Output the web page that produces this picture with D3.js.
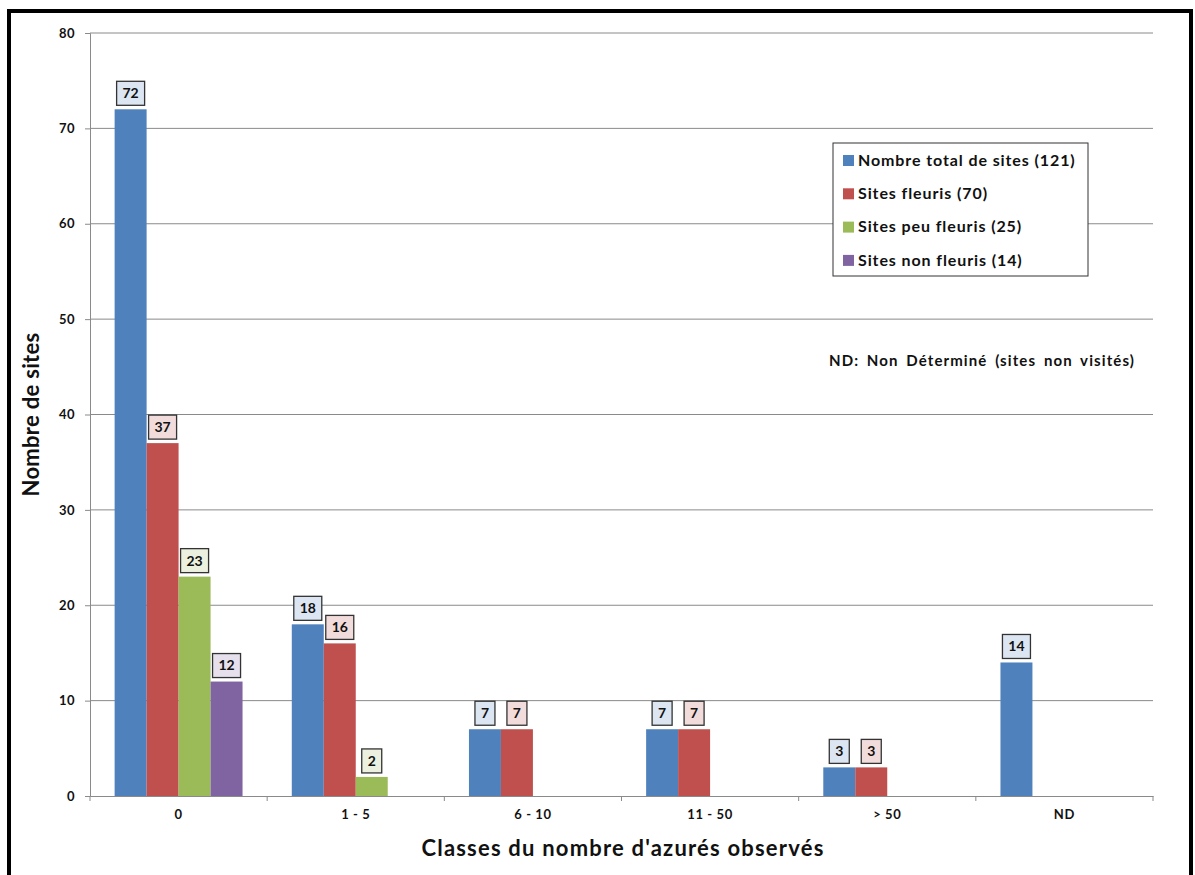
<!DOCTYPE html>
<html>
<head>
<meta charset="utf-8">
<script src="https://cdn.jsdelivr.net/npm/d3@7"></script>
<style>
  body { margin: 0; background: #fff; }
  text { font-family: Lato, "Open Sans", sans-serif; font-weight: bold; fill: #111; }
</style>
</head>
<body>
<div id="chart"></div>
<script>
// categories (x axis) and one array per series, null where there is no bar
let categories = ["0", "1 - 5", "6 - 10", "11 - 50", "> 50", "ND"];
let seriesNames = ["Nombre total de sites (121)", "Sites fleuris  (70)", "Sites peu fleuris  (25)", "Sites non fleuris  (14)"];
let totalSites = [72, 18, 7, 7, 3, 14];
let fleuris = [37, 16, 7, 7, 3, null];
let peuFleuris = [23, 2, null, null, null, null];
let nonFleuris = [12, null, null, null, null, null];
let yTicks = [0, 10, 20, 30, 40, 50, 60, 70, 80];

let seriesValues = [totalSites, fleuris, peuFleuris, nonFleuris];
let colors = ["#4f81bd", "#c0504d", "#9bbb59", "#8064a2"];
let labelFills = ["#dce6f2", "#f2dcdb", "#ebf1de", "#e5e0ec"];

let width = 1195, height = 875;
let margin = {left: 90, right: 42, top: 33, bottom: 79};

let svg = d3.select("#chart").append("svg")
  .attr("width", width).attr("height", height);

// outer black frame
svg.append("rect")
  .attr("x", 9).attr("y", 11)
  .attr("width", 1182).attr("height", 900)
  .attr("fill", "none").attr("stroke", "#000").attr("stroke-width", 4);

let x0 = d3.scaleBand()
  .domain(categories)
  .range([margin.left, width - margin.right]);

let x1 = d3.scaleBand()
  .domain(d3.range(4))
  .range([0, x0.bandwidth()])
  .paddingOuter(0.77);

let y = d3.scaleLinear()
  .domain([0, 80])
  .range([height - margin.bottom, margin.top]);

// gridlines
svg.append("g")
  .selectAll("line")
  .data(yTicks.slice(1))
  .enter().append("line")
  .attr("x1", margin.left).attr("x2", width - margin.right)
  .attr("y1", d => y(d)).attr("y2", d => y(d))
  .attr("stroke", "#8a8a8a").attr("stroke-width", 1);

// y axis
let yAxis = svg.append("g")
  .attr("transform", "translate(" + margin.left + ",0)")
  .call(d3.axisLeft(y).tickValues(yTicks).tickSize(5).tickPadding(10));
yAxis.selectAll("line, path").attr("stroke", "#8a8a8a");
yAxis.selectAll("text").style("font-size", "13px").style("font-family", "Lato, sans-serif")
  .style("letter-spacing", "0.5px").attr("fill", "#111");

// x axis (labels only, then boundary ticks)
let xAxis = svg.append("g")
  .attr("transform", "translate(0," + y(0) + ")")
  .call(d3.axisBottom(x0).tickSize(0).tickPadding(14));
xAxis.select("path").attr("stroke", "#8a8a8a");
xAxis.selectAll("text").style("font-size", "13px").style("font-family", "Lato, sans-serif")
  .style("letter-spacing", "0.6px").attr("fill", "#111");

let bounds = categories.map(c => x0(c)).concat([x0.range()[1]]);
svg.append("g")
  .selectAll("line")
  .data(bounds)
  .enter().append("line")
  .attr("x1", d => d).attr("x2", d => d)
  .attr("y1", y(0)).attr("y2", y(0) + 5)
  .attr("stroke", "#8a8a8a");

// bars
let barData = [];
seriesValues.forEach(function(vals, s) {
  vals.forEach(function(v, i) {
    if (v !== null) barData.push({s: s, cat: categories[i], v: v});
  });
});

svg.append("g")
  .selectAll("rect")
  .data(barData)
  .enter().append("rect")
  .attr("x", d => x0(d.cat) + x1(d.s))
  .attr("y", d => y(d.v))
  .attr("width", x1.bandwidth())
  .attr("height", d => y(0) - y(d.v))
  .attr("fill", d => colors[d.s]);

// value labels in boxes
let labels = svg.append("g")
  .selectAll("g")
  .data(barData)
  .enter().append("g")
  .attr("transform", d => "translate(" + (x0(d.cat) + x1(d.s) + x1.bandwidth() / 2) + "," + (y(d.v) - 16) + ")");

labels.append("rect")
  .attr("x", d => d.v >= 10 ? -14 : -10)
  .attr("y", -12)
  .attr("width", d => d.v >= 10 ? 28 : 20)
  .attr("height", 24)
  .attr("fill", d => labelFills[d.s])
  .attr("stroke", "#333").attr("stroke-width", 1.3);

labels.append("text")
  .attr("text-anchor", "middle")
  .attr("dy", "0.35em")
  .style("font-size", "14px")
  .text(d => d.v);

// legend
let legend = svg.append("g").attr("transform", "translate(833,143)");
legend.append("rect")
  .attr("width", 255).attr("height", 133)
  .attr("fill", "#fff").attr("stroke", "#333").attr("stroke-width", 1);

let items = legend.selectAll(".item")
  .data(seriesNames)
  .enter().append("g")
  .attr("class", "item")
  .attr("transform", (d, i) => "translate(10," + (17 + i * 33.3) + ")");

items.append("rect")
  .attr("x", 0).attr("y", -5)
  .attr("width", 11).attr("height", 11)
  .attr("fill", (d, i) => colors[i]);

items.append("text")
  .attr("x", 15)
  .attr("dy", "0.35em")
  .style("font-size", "16px")
  .style("letter-spacing", "0.9px")
  .text(d => d);

// note
svg.append("text")
  .attr("x", 829).attr("y", 361)
  .attr("dy", "0.35em")
  .style("font-size", "15px")
  .style("letter-spacing", "1.1px")
  .style("word-spacing", "3px")
  .text("ND: Non Déterminé (sites non visités)");

// axis titles
svg.append("text")
  .attr("transform", "translate(31," + ((y(0) + y(80)) / 2) + ") rotate(-90)")
  .attr("text-anchor", "middle")
  .attr("dy", "0.35em")
  .style("font-size", "22px")
  .style("letter-spacing", "0.3px")
  .text("Nombre de sites");

svg.append("text")
  .attr("x", 623).attr("y", 848)
  .attr("text-anchor", "middle")
  .attr("dy", "0.35em")
  .style("font-size", "22px")
  .style("letter-spacing", "1.2px")
  .text("Classes du nombre d'azurés observés");
</script>
</body>
</html>
